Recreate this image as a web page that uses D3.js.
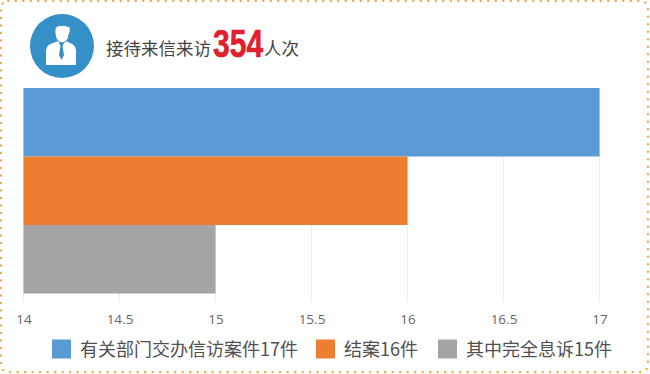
<!DOCTYPE html>
<html>
<head>
<meta charset="utf-8">
<script src="https://cdn.jsdelivr.net/npm/d3@7"></script>
<style>
html, body { margin: 0; padding: 0; background: #fff; }
svg { display: block; }
text { font-family: "Noto Sans CJK SC", "Noto Sans", sans-serif; }
</style>
</head>
<body>
<script>
var categories = ["有关部门交办信访案件17件", "结案16件", "其中完全息诉15件"];
var values = [17, 16, 15];
var colors = ["#5b9bd5", "#ed7d31", "#a5a5a5"];
var tickValues = [14, 14.5, 15, 15.5, 16, 16.5, 17];

var width = 650, height = 374;

var svg = d3.select("body").append("svg")
    .attr("width", width)
    .attr("height", height);

// dotted frame
svg.append("rect")
    .attr("x", 1).attr("y", 1)
    .attr("width", 647).attr("height", 371)
    .attr("rx", 7)
    .attr("fill", "none")
    .attr("stroke", "#eda63f")
    .attr("stroke-width", 2)
    .attr("stroke-linecap", "round")
    .attr("stroke-dasharray", "0.5 7");

// scales
var x = d3.scaleLinear().domain([14, 17]).range([23.5, 599.5]);
var y = d3.scaleBand().domain(categories).range([88, 293.5]);

// gridlines
svg.append("g").selectAll("line")
    .data(tickValues)
    .enter().append("line")
    .attr("x1", function (d) { return x(d); })
    .attr("x2", function (d) { return x(d); })
    .attr("y1", 88)
    .attr("y2", 302)
    .attr("stroke", "#ececec")
    .attr("stroke-width", 1);

// bars
svg.append("g").selectAll("rect")
    .data(values)
    .enter().append("rect")
    .attr("x", x(14))
    .attr("y", function (d, i) { return y(categories[i]); })
    .attr("width", function (d) { return x(d) - x(14); })
    .attr("height", y.bandwidth())
    .attr("fill", function (d, i) { return colors[i]; });

// axis labels
var xAxis = d3.axisBottom(x).tickValues(tickValues).tickSize(0).tickPadding(0).tickFormat(function (d) { return d; });
var axisG = svg.append("g").attr("transform", "translate(0,314)").call(xAxis);
axisG.select(".domain").remove();
axisG.selectAll("text")
    .attr("dy", "0.71em")
    .attr("fill", "#666")
    .style("font-family", "'Open Sans'")
    .style("font-size", "13.5px");

// legend
var legendX = [52, 316, 438];
var legend = svg.append("g").selectAll("g")
    .data(categories)
    .enter().append("g")
    .attr("transform", function (d, i) { return "translate(" + legendX[i] + ",339.5)"; });
legend.append("rect")
    .attr("width", 19).attr("height", 19)
    .attr("fill", function (d, i) { return colors[i]; });
legend.append("text")
    .attr("x", 28)
    .attr("y", 16.5)
    .attr("fill", "#505050")
    .style("font-size", "18px")
    .text(function (d) { return d; });

// header icon
var icon = svg.append("g").attr("transform", "translate(62,46)");
icon.append("circle").attr("r", 32).attr("fill", "#3590c8");
icon.append("path")
    .attr("fill", "#fff")
    .attr("d", "M-16,19 L-16,5 Q-16,-1 -9,-3 L-4,-5 L4,-5 L8,-3 Q14,-1 14,5 L14,19 Z");
icon.append("path")
    .attr("fill", "#3590c8")
    .attr("d", "M-3,-3 L2,-3 L0.5,0 L2,9 L-0.5,14 L-3,9 L-1.5,0 Z");
icon.append("path")
    .attr("fill", "#fff")
    .attr("stroke", "#3590c8")
    .attr("stroke-width", 1)
    .attr("d", "M-7,-12 Q-8,-18 -5,-20 Q2,-22 8,-19 Q9,-15 7,-11 Q6,-4 0,-3 Q-6,-4 -7,-12 Z");

// header text
var title = svg.append("g");
title.append("text").attr("x", 106).attr("y", 55)
    .attr("fill", "#444").style("font-size", "17.5px").text("接待来信来访");
title.append("text")
    .attr("transform", "translate(213,57) scale(0.79,1)")
    .attr("fill", "#e0202c").style("font-size", "38px")
    .style("font-family", "'Liberation Sans'").style("font-weight", "bold")
    .attr("stroke", "#e0202c").attr("stroke-width", 0.6)
    .text("354");
title.append("text").attr("x", 264).attr("y", 55)
    .attr("fill", "#444").style("font-size", "17.5px").text("人次");
</script>
</body>
</html>
